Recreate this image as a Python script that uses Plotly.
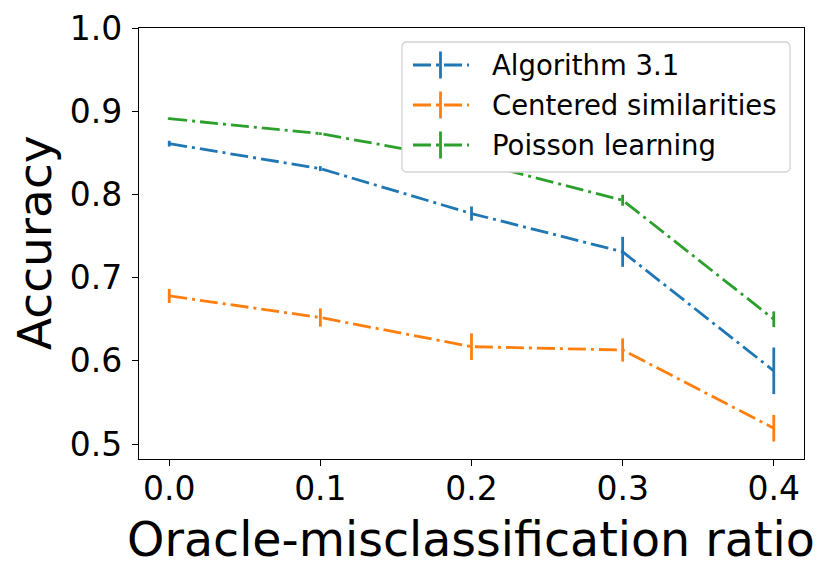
import plotly.graph_objects as go

# ---- data ----
x_ratio = [0.0, 0.1, 0.2, 0.3, 0.4]
series_names = ["Algorithm 3.1", "Centered similarities", "Poisson learning"]
alg_mean = [0.861, 0.831, 0.777, 0.731, 0.588]
alg_err = [0.0035, 0.003, 0.0085, 0.018, 0.028]
cen_mean = [0.678, 0.652, 0.617, 0.613, 0.519]
cen_err = [0.0085, 0.011, 0.016, 0.014, 0.016]
poi_mean = [0.891, 0.873, 0.840, 0.793, 0.650]
poi_err = [0.0015, 0.0015, 0.004, 0.0066, 0.0094]
colors = ["#1f77b4", "#ff7f0e", "#2ca02c"]
x_ticks = [0.0, 0.1, 0.2, 0.3, 0.4]
y_ticks = [0.5, 0.6, 0.7, 0.8, 0.9, 1.0]
x_title = "Oracle-misclassification ratio"
y_title = "Accuracy"

means = [alg_mean, cen_mean, poi_mean]
errs = [alg_err, cen_err, poi_err]

# ---- layout geometry (window pixels) ----
W, H = 831, 577
L, R, T, B = 139, 804, 28, 459
FONT = "DejaVu Sans"
DASH = "18px,5px,3px,5px"
LW = 2.8


def px_x(p):
    return (p - L) / (R - L)


def px_y(p):
    return (B - p) / (B - T)


fig = go.Figure()
for name, m, e, c in zip(series_names, means, errs, colors):
    fig.add_trace(go.Scatter(
        x=x_ratio, y=m, mode="lines", name=name, showlegend=False,
        line=dict(color=c, width=LW, dash=DASH),
        error_y=dict(type="data", array=e, visible=True, width=0,
                     thickness=LW, color=c),
    ))

axis_common = dict(
    showline=True, mirror=True, linecolor="black", linewidth=1.3,
    ticks="outside", ticklen=6, tickwidth=1.3, tickcolor="black",
    showgrid=False, zeroline=False, automargin=False,
    tickfont=dict(family=FONT, size=33, color="black"),
)

fig.update_layout(
    width=W, height=H,
    margin=dict(l=L, r=W - R, t=T, b=H - B),
    paper_bgcolor="white", plot_bgcolor="white",
    xaxis=dict(range=[-0.02, 0.42], tickvals=x_ticks, tickformat=".1f",
               ticklabelstandoff=-6, **axis_common),
    yaxis=dict(range=[0.482, 1.0], tickvals=y_ticks, tickformat=".1f",
               ticklabelstandoff=3, **axis_common),
    showlegend=False,
)

# ---- axis titles ----
fig.add_annotation(text=x_title, xref="paper", yref="paper",
                   x=px_x(470.5), y=px_y(539), xanchor="center", yanchor="middle",
                   showarrow=False, font=dict(family=FONT, size=47.5, color="black"))
fig.add_annotation(text=y_title, xref="paper", yref="paper",
                   x=px_x(34), y=px_y(243), xanchor="center", yanchor="middle",
                   textangle=-90, showarrow=False,
                   font=dict(family=FONT, size=47, color="black"))

# ---- legend (matplotlib style) ----
bx0, bx1, by0, by1, rad = 402, 790, 42, 172, 5
rx = rad / (R - L)
ry = rad / (B - T)
X0, X1, Y0, Y1 = px_x(bx0), px_x(bx1), px_y(by0), px_y(by1)
path = (f"M{X0 + rx},{Y0} L{X1 - rx},{Y0} Q{X1},{Y0} {X1},{Y0 - ry} "
        f"L{X1},{Y1 + ry} Q{X1},{Y1} {X1 - rx},{Y1} "
        f"L{X0 + rx},{Y1} Q{X0},{Y1} {X0},{Y1 + ry} "
        f"L{X0},{Y0 - ry} Q{X0},{Y0} {X0 + rx},{Y0} Z")
fig.add_shape(type="path", path=path, xref="paper", yref="paper",
              fillcolor="white", line=dict(color="#d3d3d3", width=1.3), layer="above")

row_y = [65, 105, 145]
for name, c, ry_px in zip(series_names, colors, row_y):
    fig.add_shape(type="line", xref="paper", yref="paper",
                  x0=px_x(413), x1=px_x(469), y0=px_y(ry_px), y1=px_y(ry_px),
                  line=dict(color=c, width=LW, dash=DASH), layer="above")
    fig.add_shape(type="line", xref="paper", yref="paper",
                  x0=px_x(440.5), x1=px_x(440.5), y0=px_y(ry_px - 13.5), y1=px_y(ry_px + 13.5),
                  line=dict(color=c, width=LW), layer="above")
    fig.add_annotation(text=name, xref="paper", yref="paper",
                       x=px_x(490), y=px_y(ry_px), xanchor="left", yanchor="middle",
                       showarrow=False, font=dict(family=FONT, size=27.5, color="black"))

# remove the page's default body margin so the figure fills the window exactly
fig.write_html("out.html", config={"displayModeBar": False},
               post_script="document.body.style.margin='0px';")
